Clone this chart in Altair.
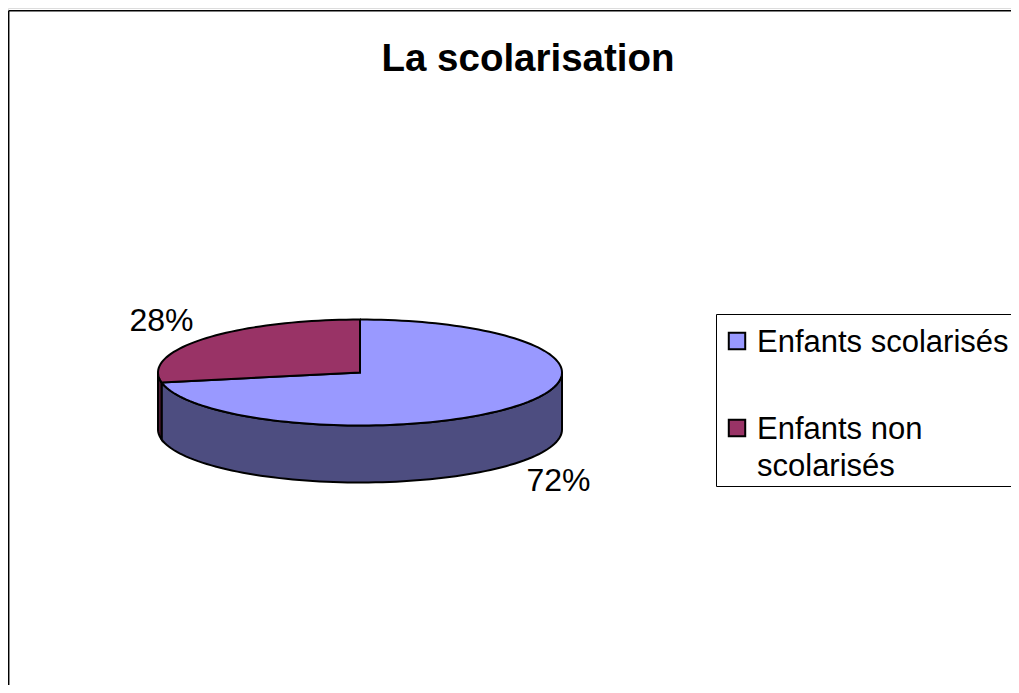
import math
import altair as alt
import pandas as pd

TITLE = "La scolarisation"
CATEGORIES = ["Enfants scolarisés", "Enfants non scolarisés"]
SHARES = [72, 28]
PCT_LABELS = ["72%", "28%"]
TOP_COLORS = ["#9999FF", "#993366"]
WALL_COLORS = ["#4D4D80", "#4D1A33"]

CX, CY, RX, RY, DEPTH = 360, 372.5, 202, 53, 57
LABEL_POS = [(558.5, 481), (161.5, 321)]
STEP = 2.0
RIGHT, BOTTOM = 1011, 685


def arc(a0, a1, dy=0.0):
    n = max(2, int(abs(a1 - a0) / STEP) + 1)
    out = []
    for i in range(n + 1):
        t = math.radians(a0 + (a1 - a0) * i / n)
        out.append((CX + RX * math.sin(t), CY - RY * math.cos(t) + dy))
    return out


top_rows, wall_layers_data = [], []
start = 0.0
for cat, share, wall in zip(CATEGORIES, SHARES, WALL_COLORS):
    end = start + share * 3.6
    pts = arc(start, end) + [(CX, CY)]
    pts.append(pts[0])
    for i, (x, y) in enumerate(pts):
        top_rows.append({"cat": cat, "i": i, "x": x, "y": y})
    a0, a1 = max(start, 90), min(end, 270)
    if a1 > a0:
        pts = arc(a0, a1) + arc(a1, a0, DEPTH)
        pts.append(pts[0])
        wall_layers_data.append(
            (pd.DataFrame([{"i": i, "x": x, "y": y} for i, (x, y) in enumerate(pts)]), wall)
        )
    start = end

top_df = pd.DataFrame(top_rows)
label_df = pd.DataFrame({"text": PCT_LABELS, "x": [p[0] for p in LABEL_POS], "y": [p[1] for p in LABEL_POS]})
frame_df = pd.DataFrame({"x": [8.7, 8.7], "y": [10.7, 10.7], "x2": [8.7, RIGHT], "y2": [BOTTOM, 10.7]})
legend_box_df = pd.DataFrame({"x": [716.5], "y": [314.5], "x2": [RIGHT + 10], "y2": [486.5]})

X = alt.X("x:Q", axis=None, scale=alt.Scale(domain=[8, RIGHT], nice=False, zero=False))
Y = alt.Y("y:Q", axis=None, scale=alt.Scale(domain=[BOTTOM, 8], nice=False, zero=False))

frame = alt.Chart(frame_df).mark_rule(color="#000000", strokeWidth=1.5).encode(x=X, y=Y, x2="x2:Q", y2="y2:Q")

legend_box = alt.Chart(legend_box_df).mark_rect(
    filled=False, stroke="#000000", strokeWidth=1
).encode(x=X, y=Y, x2="x2:Q", y2="y2:Q")

walls = [
    alt.Chart(df).mark_line(stroke="#000000", fill=col, strokeWidth=2, interpolate="linear").encode(
        x=X, y=Y, order="i:Q"
    )
    for df, col in wall_layers_data
]

tops = alt.Chart(top_df).mark_line(stroke="#000000", strokeWidth=2, interpolate="linear").encode(
    x=X, y=Y, order="i:Q",
    fill=alt.Fill(
        "cat:N",
        scale=alt.Scale(domain=CATEGORIES, range=TOP_COLORS),
        legend=alt.Legend(
            title=None,
            orient="none",
            legendX=708,
            legendY=306,
            symbolType="square",
            symbolSize=270,
            symbolStrokeColor="#000000",
            symbolStrokeWidth=2,
            symbolOffset=-6,
            labelFont="Liberation Sans",
            labelFontSize=31,
            labelColor="#000000",
            labelLimit=400,
            labelOffset=0,
            labelBaseline="top",
            rowPadding=54,
            padding=11.5,
            labelExpr="datum.label == 'Enfants non scolarisés' ? ['Enfants non', 'scolarisés'] : datum.label",
        ),
    ),
)

labels = alt.Chart(label_df).mark_text(
    font="Liberation Sans", fontSize=32, color="#000000", align="center", baseline="middle"
).encode(x=X, y=Y, text="text:N")

chart = (
    alt.layer(frame, legend_box, *walls, tops, labels)
    .properties(
        width=RIGHT - 8,
        height=BOTTOM - 8,
        padding=0,
        autosize=alt.AutoSizeParams(type="none"),
        title=alt.TitleParams(
            TITLE,
            font="Liberation Sans",
            fontSize=38.5,
            fontWeight="bold",
            color="#000000",
            anchor="middle",
            dx=18.5,
            dy=75,
        ),
    )
    .configure_view(stroke=None)
    .configure(style={"guide-label": {"lineHeight": 37, "dy": -13, "dx": 4.5}})
)

chart.save("out.html", embed_options={"renderer": "svg", "actions": False})
